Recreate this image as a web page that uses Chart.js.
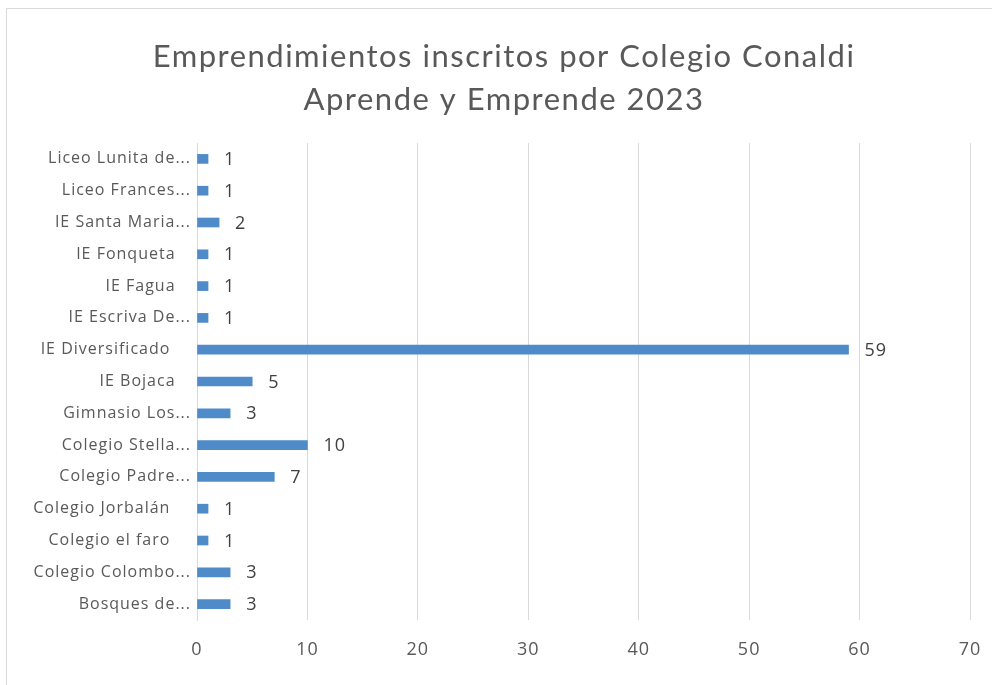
<!DOCTYPE html>
<html>
<head>
<meta charset="utf-8">
<script src="https://cdn.jsdelivr.net/npm/chart.js@4"></script>
<style>
  html, body { margin: 0; padding: 0; background: #ffffff; }
  #wrap { position: absolute; left: 0; top: 0; width: 992px; height: 685px; }
</style>
</head>
<body>
<div id="wrap"><canvas id="c" width="992" height="685"></canvas></div>
<script>
const titleLines = ["Emprendimientos inscritos por Colegio Conaldi", "Aprende y Emprende 2023"];
const categories = [
  "Liceo Lunita de...",
  "Liceo Frances...",
  "IE Santa Maria...",
  "IE Fonqueta   ",
  "IE Fagua   ",
  "IE Escriva De...",
  "IE Diversificado    ",
  "IE Bojaca   ",
  "Gimnasio Los...",
  "Colegio Stella...",
  "Colegio Padre...",
  "Colegio Jorbalán    ",
  "Colegio el faro    ",
  "Colegio Colombo...",
  "Bosques de..."
];
const values = [1, 1, 2, 1, 1, 1, 59, 5, 3, 10, 7, 1, 1, 3, 3];
const xTicks = [0, 10, 20, 30, 40, 50, 60, 70];

const TITLE_FONT = "Lato, 'Open Sans', sans-serif";
const FONT = "'Open Sans', Lato, sans-serif";

function setSpacing(ctx, v) { try { ctx.letterSpacing = v; } catch (e) {} }

const framePlugin = {
  id: 'frame',
  beforeUpdate(chart) { setSpacing(chart.ctx, '1px'); },
  beforeLayout(chart) { setSpacing(chart.ctx, '1px'); },
  beforeDraw(chart) {
    const ctx = chart.ctx;
    setSpacing(ctx, '1px');
    ctx.save();
    ctx.fillStyle = '#ffffff';
    ctx.fillRect(0, 0, chart.width, chart.height);
    ctx.strokeStyle = '#d9d9d9';
    ctx.lineWidth = 1;
    ctx.beginPath();
    ctx.moveTo(6.5, chart.height);
    ctx.lineTo(6.5, 8.5);
    ctx.lineTo(chart.width, 8.5);
    ctx.stroke();
    // title
    ctx.fillStyle = '#595959';
    ctx.font = "31px " + TITLE_FONT;
    ctx.textAlign = 'center';
    ctx.textBaseline = 'middle';
    setSpacing(ctx, '1.5px');
    ctx.fillText(titleLines[0], 504, 57);
    ctx.fillText(titleLines[1], 504, 100);
    ctx.restore();
  }
};

const labelPlugin = {
  id: 'barLabels',
  afterDatasetsDraw(chart) {
    const ctx = chart.ctx;
    const meta = chart.getDatasetMeta(0);
    ctx.save();
    ctx.font = "18px " + FONT;
    ctx.fillStyle = '#404040';
    ctx.textAlign = 'left';
    ctx.textBaseline = 'middle';
    meta.data.forEach((bar, i) => {
      ctx.fillText(String(values[i]), bar.x + 16, bar.y + 1);
    });
    ctx.restore();
  }
};

new Chart(document.getElementById('c'), {
  type: 'bar',
  data: {
    labels: categories,
    datasets: [{
      data: values,
      backgroundColor: '#4f8bc9',
      borderWidth: 0,
      barThickness: 9
    }]
  },
  options: {
    indexAxis: 'y',
    responsive: false,
    animation: false,
    layout: { padding: { left: 0, right: 22, top: 143, bottom: 0 } },
    plugins: {
      legend: { display: false },
      tooltip: { enabled: false },
      title: { display: false }
    },
    scales: {
      x: {
        min: 0,
        max: 70,
        afterBuildTicks(scale) { scale.ticks = xTicks.map(v => ({ value: v })); },
        afterFit(scale) { scale.height = 65; scale.paddingLeft = 0; scale.paddingRight = 0; },
        grid: { color: '#d9d9d9', drawTicks: false },
        border: { display: false },
        ticks: {
          color: '#595959',
          font: { family: FONT, size: 18 },
          padding: 19,
          maxRotation: 0
        }
      },
      y: {
        afterFit(scale) { scale.width = 197; },
        grid: { display: false, drawTicks: false },
        border: { display: true, color: '#d9d9d9' },
        ticks: {
          color: '#595959',
          font: { family: FONT, size: 16 },
          padding: 6,
          autoSkip: false
        }
      }
    }
  },
  plugins: [framePlugin, labelPlugin]
});
</script>
</body>
</html>
